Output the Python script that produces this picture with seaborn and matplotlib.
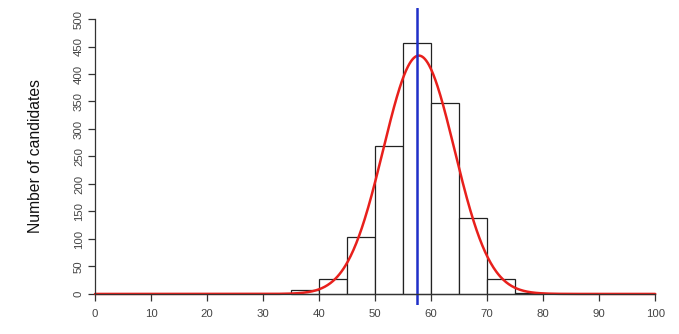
import numpy as np
import pandas as pd
import matplotlib
matplotlib.use("Agg")
import matplotlib.pyplot as plt
import seaborn as sns

# Histogram data (bins of width 5)
bin_left = [35, 40, 45, 50, 55, 60, 65, 70, 75]
counts = [8, 27, 104, 269, 456, 348, 139, 27, 2]
bin_width = 5

# Fitted normal curve parameters and mean line
curve_mean = 57.8
curve_sd = 6.35
mean_line = 57.4

x_ticks = [0, 10, 20, 30, 40, 50, 60, 70, 80, 90, 100]
y_ticks = [0, 50, 100, 150, 200, 250, 300, 350, 400, 450, 500]
y_label = "Number of candidates"

sns.set_theme(style="white")
plt.rcParams['font.family'] = ['Liberation Sans', 'DejaVu Sans']

fig = plt.figure(figsize=(6.79, 3.34), dpi=100)
ax = fig.add_axes([0.107, 0.087, 0.891, 0.889])

df = pd.DataFrame({"center": np.array(bin_left) + bin_width / 2, "count": counts})
edges = list(bin_left) + [bin_left[-1] + bin_width]
sns.histplot(data=df, x="center", weights="count", bins=edges, ax=ax,
             color="white", edgecolor="#222222", linewidth=0.9, alpha=1)

total = sum(counts)
xs = np.linspace(0, 100, 801)
ys = total * bin_width * np.exp(-0.5 * ((xs - curve_mean) / curve_sd) ** 2) / (np.sqrt(2 * np.pi) * curve_sd)
sns.lineplot(x=xs, y=ys, ax=ax, color="#e8201c", linewidth=1.8)

ax.axvline(mean_line, color="#1f2fc8", linewidth=1.8)

ax.set_xlim(-4, 104)
ax.set_ylim(-20, 520)
ax.set_xticks(x_ticks)
ax.set_yticks(y_ticks)
ax.set_xlabel("")
ax.set_ylabel(y_label, fontsize=11.3, color="#111111", labelpad=22)

for s in ["top", "right"]:
    ax.spines[s].set_visible(False)
ax.spines["left"].set_position(("data", 0))
ax.spines["bottom"].set_position(("data", 0))
ax.spines["left"].set_bounds(0, 500)
ax.spines["bottom"].set_bounds(0, 100)
for s in ["left", "bottom"]:
    ax.spines[s].set_color("#333333")
    ax.spines[s].set_linewidth(0.9)

ax.tick_params(axis="both", which="major", length=5, width=0.9, color="#333333",
               labelsize=8.2, labelcolor="#444444", left=True, bottom=True)
ax.tick_params(axis="y", labelrotation=90, pad=3)
ax.tick_params(axis="x", pad=6)
for lab in ax.get_yticklabels():
    lab.set_va("center")
    lab.set_ha("right")

fig.savefig("out.png", dpi=100)
